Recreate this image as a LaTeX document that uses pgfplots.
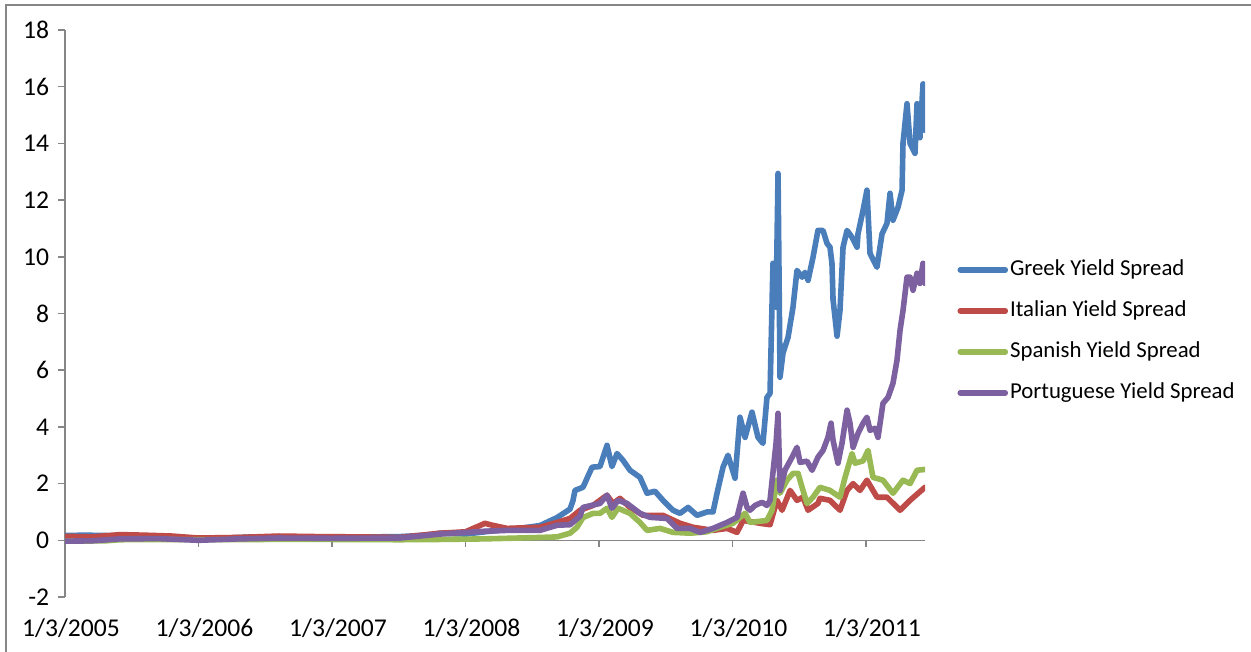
\documentclass[border=0pt]{standalone}
\usepackage{fontspec}
\setmainfont{Carlito}
\usepackage{pgfplots}
\pgfplotsset{compat=1.18}
\definecolor{cgreek}{HTML}{4A7EBB}
\definecolor{citaly}{HTML}{BE4B48}
\definecolor{cspain}{HTML}{98B954}
\definecolor{cport}{HTML}{7D60A0}
\definecolor{axgray}{HTML}{868686}
\begin{document}
\fontsize{12.8}{15.4}\selectfont
\begin{tikzpicture}
\useasboundingbox (0,0) rectangle (625.5pt,326pt);
\draw[axgray, line width=0.6pt] (3pt,-5pt) -- (3pt,323.5pt) -- (630pt,323.5pt);
\begin{axis}[
  at={(32.5pt,27.5pt)}, anchor=south west,
  scale only axis, width=430pt, height=283.5pt,
  xmin=2005, xmax=2011.442, ymin=-2, ymax=18,
  axis x line*=bottom, axis y line*=left,
  x axis line style={draw=none}, xtick style={draw=none},
  y axis line style={axgray, line width=0.75pt},
  ytick style={axgray, line width=0.75pt},
  tick align=outside, major tick length=3.5pt,
  xtick={2005,2006,2007,2008,2009,2010,2011},
  xticklabels={1/3/2005,1/3/2006,1/3/2007,1/3/2008,1/3/2009,1/3/2010,1/3/2011},
  ytick={-2,0,2,4,6,8,10,12,14,16,18},
  /pgf/number format/assume math mode=true,
  tick label style={font=\fontsize{12.8}{15.4}\selectfont, text=black},
  xticklabel style={anchor=base, yshift=-16.5pt, xshift=3pt},
  yticklabel style={anchor=east},
  legend cell align=left,
  legend style={at={(1.0303,0.4685)}, anchor=west, draw=none, fill=none,
    font=\fontsize{11.4}{13.7}\selectfont, row sep=6.5pt,
    nodes={text height=9pt, text depth=3pt, inner sep=1pt}},
  legend image code/.code={\draw[#1] (0pt,0pt) -- (22.5pt,0pt);},
  every axis plot/.append style={line width=2.8pt, line join=round, line cap=round, mark=none},
]
\draw[axgray, line width=0.75pt] (axis cs:2005,0) -- (axis cs:2011.442,0);
\pgfplotsinvokeforeach{2006,2007,2008,2009,2010,2011}{
  \draw[axgray, line width=0.75pt] (axis cs:#1,0) -- ++(0pt,-3.5pt);
}
\addplot[cgreek] table {
x y
2005.000 0.17
2005.150 0.18
2005.300 0.17
2005.412 0.15
2005.600 0.10
2005.800 0.08
2006.000 0.05
2006.200 0.08
2006.400 0.12
2006.700 0.12
2007.000 0.10
2007.300 0.12
2007.509 0.13
2007.700 0.18
2007.809 0.25
2008.000 0.22
2008.146 0.30
2008.311 0.38
2008.450 0.45
2008.558 0.52
2008.685 0.80
2008.783 1.10
2008.805 1.40
2008.820 1.76
2008.880 1.87
2008.948 2.58
2009.007 2.60
2009.060 3.35
2009.097 2.60
2009.135 3.06
2009.180 2.82
2009.232 2.47
2009.307 2.22
2009.360 1.66
2009.419 1.73
2009.479 1.41
2009.554 1.06
2009.607 0.95
2009.667 1.16
2009.734 0.88
2009.809 1.00
2009.854 1.00
2009.884 1.66
2009.929 2.58
2009.966 3.00
2010.019 2.19
2010.056 4.34
2010.094 3.63
2010.146 4.52
2010.191 3.63
2010.228 3.42
2010.258 5.04
2010.281 5.18
2010.303 9.77
2010.326 8.22
2010.341 12.94
2010.356 5.75
2010.378 6.60
2010.416 7.16
2010.453 8.22
2010.483 9.52
2010.521 9.28
2010.543 9.45
2010.566 9.17
2010.603 9.98
2010.640 10.93
2010.678 10.93
2010.708 10.47
2010.730 10.34
2010.745 9.77
2010.753 8.50
2010.783 7.20
2010.805 8.10
2010.828 10.34
2010.858 10.93
2010.895 10.69
2010.933 10.34
2010.940 10.81
2010.978 11.64
2011.007 12.35
2011.030 10.12
2011.082 9.63
2011.120 10.81
2011.157 11.18
2011.180 12.24
2011.202 11.29
2011.240 11.75
2011.270 12.35
2011.277 14.00
2011.307 15.40
2011.330 14.00
2011.367 13.65
2011.382 15.40
2011.404 14.20
2011.427 16.10
2011.442 14.46
};
\addlegendentry{Greek Yield Spread}
\addplot[citaly] table {
x y
2005.000 0.14
2005.200 0.12
2005.412 0.20
2005.600 0.18
2005.800 0.15
2006.000 0.08
2006.300 0.10
2006.600 0.15
2006.900 0.13
2007.200 0.12
2007.509 0.10
2007.809 0.25
2008.000 0.30
2008.146 0.60
2008.184 0.55
2008.311 0.42
2008.558 0.46
2008.685 0.63
2008.783 0.77
2008.858 1.06
2008.955 1.23
2009.007 1.41
2009.060 1.59
2009.105 1.30
2009.157 1.48
2009.232 1.16
2009.330 0.88
2009.479 0.88
2009.607 0.60
2009.704 0.46
2009.854 0.35
2009.959 0.42
2010.034 0.28
2010.079 0.70
2010.206 0.60
2010.281 0.55
2010.333 1.41
2010.371 1.06
2010.431 1.76
2010.483 1.41
2010.528 1.52
2010.566 1.06
2010.640 1.30
2010.655 1.48
2010.730 1.41
2010.805 1.06
2010.858 1.76
2010.903 2.00
2010.955 1.76
2011.007 2.12
2011.082 1.52
2011.157 1.52
2011.255 1.06
2011.330 1.41
2011.442 1.87
};
\addlegendentry{Italian Yield Spread}
\addplot[cspain] table {
x y
2005.000 -0.03
2005.300 -0.02
2005.412 0.02
2005.700 0.03
2006.000 0.02
2006.500 0.03
2007.000 0.03
2007.509 0.02
2007.809 0.03
2008.146 0.05
2008.558 0.10
2008.685 0.12
2008.783 0.25
2008.835 0.46
2008.880 0.80
2008.955 0.95
2009.007 0.95
2009.060 1.13
2009.097 0.81
2009.142 1.13
2009.232 0.95
2009.307 0.63
2009.360 0.35
2009.457 0.42
2009.554 0.28
2009.682 0.25
2009.809 0.30
2009.906 0.46
2010.004 0.60
2010.094 0.95
2010.131 0.63
2010.258 0.70
2010.296 1.06
2010.333 2.12
2010.356 1.66
2010.408 2.12
2010.453 2.36
2010.491 2.36
2010.521 1.87
2010.558 1.30
2010.603 1.52
2010.655 1.87
2010.730 1.76
2010.805 1.52
2010.843 2.22
2010.895 3.06
2010.918 2.72
2010.978 2.80
2011.015 3.17
2011.052 2.22
2011.127 2.12
2011.202 1.66
2011.277 2.12
2011.330 2.00
2011.382 2.47
2011.442 2.50
};
\addlegendentry{Spanish Yield Spread}
\addplot[cport] table {
x y
2005.000 -0.03
2005.200 -0.02
2005.412 0.05
2005.700 0.06
2006.000 0.00
2006.300 0.05
2006.600 0.08
2007.000 0.07
2007.509 0.08
2007.809 0.22
2008.146 0.32
2008.311 0.35
2008.558 0.35
2008.685 0.53
2008.783 0.55
2008.858 0.85
2008.880 1.16
2009.007 1.30
2009.060 1.59
2009.097 1.13
2009.142 1.41
2009.210 1.30
2009.307 0.95
2009.382 0.81
2009.509 0.77
2009.584 0.42
2009.682 0.42
2009.757 0.28
2009.854 0.42
2009.959 0.63
2010.034 0.81
2010.079 1.66
2010.109 1.16
2010.131 1.06
2010.169 1.23
2010.221 1.34
2010.258 1.23
2010.281 1.41
2010.326 3.42
2010.341 4.48
2010.356 1.76
2010.393 2.47
2010.446 2.93
2010.483 3.28
2010.506 2.75
2010.558 2.79
2010.596 2.47
2010.640 2.93
2010.678 3.17
2010.715 3.63
2010.738 4.13
2010.753 3.53
2010.790 2.72
2010.820 3.42
2010.858 4.59
2010.880 4.13
2010.903 3.28
2010.940 3.77
2010.978 4.13
2011.007 4.34
2011.030 3.88
2011.067 3.95
2011.090 3.63
2011.127 4.83
2011.165 5.04
2011.202 5.54
2011.232 6.35
2011.255 7.41
2011.277 8.10
2011.307 9.28
2011.330 9.28
2011.352 8.82
2011.382 9.42
2011.404 9.06
2011.427 9.77
2011.442 9.06
};
\addlegendentry{Portuguese Yield Spread}
\end{axis}
\end{tikzpicture}
\end{document}
